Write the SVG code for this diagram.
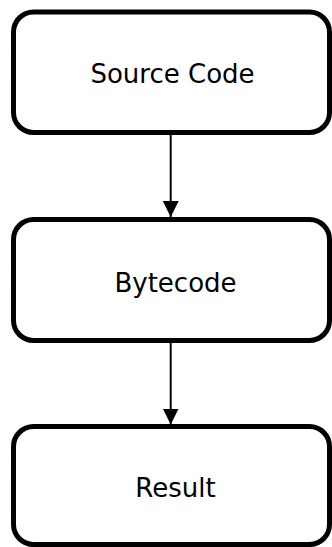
<svg xmlns="http://www.w3.org/2000/svg" width="332" height="547" viewBox="0 0 332 547">
<defs>
<style>
.box{fill:#ffffff;stroke:#000000;stroke-width:5}
.lbl{font-family:"DejaVu Sans","Verdana",sans-serif;font-size:26px;fill:#000000;text-anchor:middle}
.edge{stroke:#000000;stroke-width:2;fill:none}
</style>
<marker id="arr" viewBox="0 0 16 16" refX="16" refY="8" markerWidth="16" markerHeight="16" markerUnits="userSpaceOnUse" orient="auto">
<path d="M0,0 L16,8 L0,16 Z" fill="#000000"/>
</marker>
</defs>
<rect width="332" height="547" fill="#ffffff"/>
<g id="connectors">
<line class="edge" x1="170.7" y1="135" x2="170.7" y2="217" marker-end="url(#arr)"/>
<line class="edge" x1="170.7" y1="343" x2="170.7" y2="424.5" marker-end="url(#arr)"/>
</g>
<g id="source-code">
<rect class="box" x="13.5" y="12" width="316" height="120.5" rx="20" ry="20"/>
<text class="lbl" x="172.5" y="83">Source Code</text>
</g>
<g id="bytecode">
<rect class="box" x="13.5" y="219.5" width="316" height="121" rx="20" ry="20"/>
<text class="lbl" x="175.5" y="291.5">Bytecode</text>
</g>
<g id="result">
<rect class="box" x="13.5" y="426.5" width="316" height="118" rx="20" ry="20"/>
<text class="lbl" x="175.5" y="497">Result</text>
</g>
</svg>
